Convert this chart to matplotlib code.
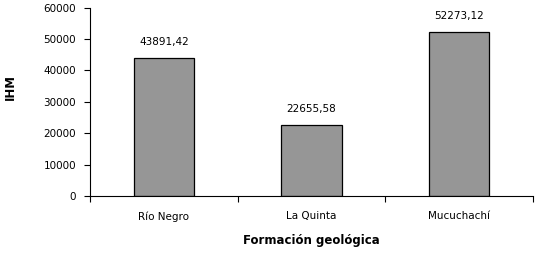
import matplotlib.pyplot as plt

# datos del gráfico
formaciones = ['Río Negro', 'La Quinta', 'Mucuchachí']
ihm = [43891.42, 22655.58, 52273.12]
etiquetas = ['43891,42', '22655,58', '52273,12']
yticks = [0, 10000, 20000, 30000, 40000, 50000, 60000]

plt.rcParams['font.family'] = ['DejaVu Sans']

fig = plt.figure(figsize=(5.36, 2.54), dpi=100)
ax = fig.add_axes([0.168, 0.228, 0.826, 0.742])

x = range(len(formaciones))
bars = ax.bar(x, ihm, width=0.41, color='#969696', edgecolor='black', linewidth=0.9)

for b, lab in zip(bars, etiquetas):
    ax.annotate(lab, (b.get_x() + b.get_width() / 2, b.get_height()),
                xytext=(0, 8), textcoords='offset points',
                ha='center', va='bottom', fontsize=7.5)

ax.set_xlim(-0.5, len(formaciones) - 0.5)
ax.set_ylim(0, 60000)
ax.set_yticks(yticks)
ax.set_yticklabels([str(v) for v in yticks], fontsize=7.5)

# marcas del eje x entre categorias, etiquetas centradas
ax.set_xticks([i - 0.5 for i in range(len(formaciones) + 1)])
ax.set_xticklabels([])
ax.set_xticks(list(x), minor=True)
ax.set_xticklabels(formaciones, minor=True, fontsize=7.5)
ax.tick_params(axis='x', which='minor', length=0, pad=11)
ax.tick_params(axis='x', which='major', length=4, direction='out', width=0.8)
ax.tick_params(axis='y', length=4, direction='out', width=0.8, pad=6)

ax.spines['top'].set_visible(False)
ax.spines['right'].set_visible(False)
ax.spines['left'].set_linewidth(0.8)
ax.spines['bottom'].set_linewidth(0.8)

ax.set_xlabel('Formación geológica', fontsize=8.5, fontweight='bold')
ax.xaxis.set_label_coords(0.5, -0.2)
ax.set_ylabel('IHM', fontsize=8.5, fontweight='bold')
ax.yaxis.set_label_coords(-0.165, 0.58)

fig.savefig('out.png', dpi=100)
